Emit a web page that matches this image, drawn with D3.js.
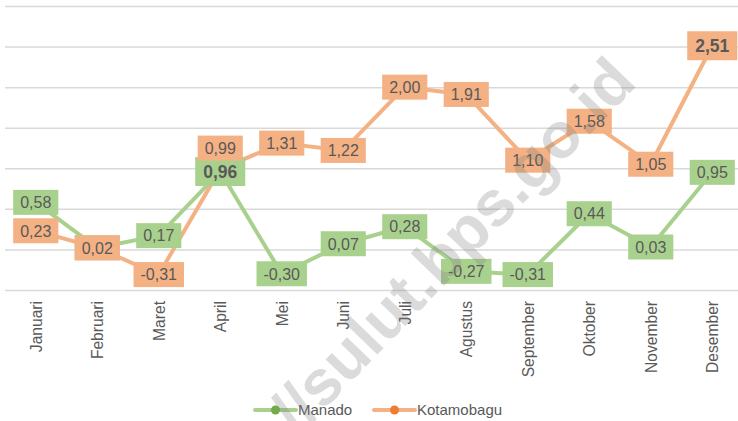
<!DOCTYPE html>
<html>
<head>
<meta charset="utf-8">
<script src="https://cdn.jsdelivr.net/npm/d3@7"></script>
<style>
  body { margin: 0; background: #fff; }
  svg { display: block; font-family: "Liberation Sans", Arial, sans-serif; }
  .grid line { stroke: #d9d9d9; stroke-width: 1.5; }
  .grid .domain { display: none; }
</style>
</head>
<body>
<div id="chart"></div>
<script>
/* inflasi bulanan Manado vs Kotamobagu */

const months = ["Januari", "Februari", "Maret", "April", "Mei", "Juni", "Juli",
  "Agustus", "September", "Oktober", "November", "Desember"];
const manado = [0.58, 0.02, 0.17, 0.96, -0.30, 0.07, 0.28, -0.27, -0.31, 0.44, 0.03, 0.95];
const kotamobagu = [0.23, 0.02, -0.31, 0.99, 1.31, 1.22, 2.00, 1.91, 1.10, 1.58, 1.05, 2.51];
const yTicks = [-0.5, 0, 0.5, 1, 1.5, 2, 2.5, 3];

const size = { width: 738, height: 421 };
const plot = { left: 5, right: 743, top: 6, bottom: 290 };

const series = [
  { name: "Manado", values: manado, line: "#a9d18e", marker: "#70ad47" },
  { name: "Kotamobagu", values: kotamobagu, line: "#f4b183", marker: "#ed7d31" }
];

// Excel-style label: comma decimal, plain hyphen for negatives
const fmt = v => v.toFixed(2).replace(".", ",");

const svg = d3.select("#chart").append("svg")
  .attr("width", size.width)
  .attr("height", size.height);

const xScale = d3.scaleBand().domain(months).range([plot.left, plot.right]);
const yScale = d3.scaleLinear().domain([-0.5, 3]).range([plot.bottom, plot.top]);
const cx = m => xScale(m) + xScale.bandwidth() / 2;

// horizontal gridlines
svg.append("g")
  .attr("class", "grid")
  .attr("transform", "translate(" + plot.left + ",0)")
  .call(d3.axisLeft(yScale).tickValues(yTicks).tickSize(-(size.width - plot.left)).tickFormat(""));

// month labels, rotated
svg.append("g")
  .selectAll("text")
  .data(months)
  .join("text")
  .attr("transform", d => "translate(" + (cx(d) + 6) + "," + (plot.bottom + 11) + ") rotate(-90)")
  .attr("text-anchor", "end")
  .style("font-size", "15.6px")
  .style("fill", "#595959")
  .text(d => d);

const line = d3.line()
  .x((d, i) => cx(months[i]))
  .y(d => yScale(d));

series.forEach(s => {
  svg.append("path")
    .datum(s.values)
    .attr("fill", "none")
    .attr("stroke", s.line)
    .attr("stroke-width", 4)
    .attr("stroke-linejoin", "round")
    .attr("d", line);
});

series.forEach(s => {
  svg.append("g")
    .selectAll("circle")
    .data(s.values)
    .join("circle")
    .attr("cx", (d, i) => cx(months[i]))
    .attr("cy", d => yScale(d))
    .attr("r", 4.5)
    .attr("fill", s.marker);
});

// data labels; the April Kotamobagu label sits above its point
series.forEach(s => {
  const maxV = d3.max(s.values);
  const g = svg.append("g");
  s.values.forEach((v, i) => {
    const bold = v === maxV;
    const shift = (s.name === "Kotamobagu" && i === 3) ? -21 : 0;
    const x = cx(months[i]);
    const y = yScale(v) + shift;
    const lab = g.append("g").attr("transform", "translate(" + x + "," + y + ")");
    const rect = lab.append("rect").attr("fill", s.line);
    const t = lab.append("text")
      .attr("text-anchor", "middle")
      .attr("dy", "0.36em")
      .style("font-size", bold ? "17.5px" : "16px")
      .style("font-weight", bold ? "bold" : "normal")
      .style("fill", "#595959")
      .text(fmt(v));
    const w = t.node().getComputedTextLength() + (bold ? 16 : 14);
    const h = bold ? 29 : 25;
    rect.attr("x", -w / 2).attr("y", -h / 2).attr("width", w).attr("height", h);
  });
});

// legend
const legend = svg.append("g").attr("transform", "translate(0,410)");
const legendItems = [
  { s: series[0], x: 255 },
  { s: series[1], x: 374 }
];
legendItems.forEach(li => {
  legend.append("line")
    .attr("x1", li.x).attr("x2", li.x + 41)
    .attr("stroke", li.s.line).attr("stroke-width", 4).attr("stroke-linecap", "round");
  legend.append("circle")
    .attr("cx", li.x + 20.5).attr("r", 4.5).attr("fill", li.s.marker);
  legend.append("text")
    .attr("x", li.x + 43).attr("dy", "0.35em")
    .style("font-size", "15px")
    .style("fill", "#595959")
    .text(li.s.name);
});

// watermark
svg.append("text")
  .attr("transform", "translate(452,245) rotate(-46)")
  .attr("text-anchor", "middle")
  .attr("dy", "0.35em")
  .style("font-size", "64px")
  .style("font-weight", "bold")
  .style("fill", "#7f7f7f")
  .style("opacity", 0.28)
  .text("//sulut.bps.go.id");
</script>
</body>
</html>
